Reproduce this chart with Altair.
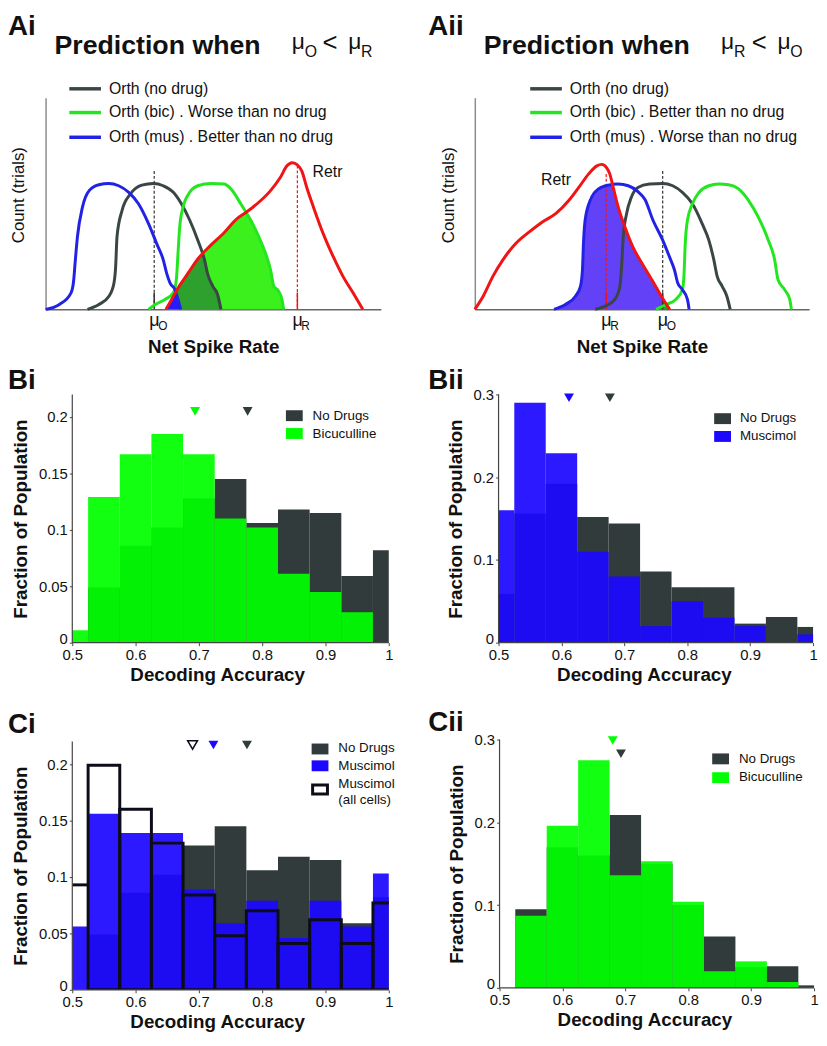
import altair as alt
import pandas as pd

FONT = "Liberation Sans"
INK = "#111111"
DARK = "#313b3b"
GREEN = "#00ff00"
BLUE = "#1c08ff"
RED = "#f01414"
LINE_GREEN = "#22e61e"
LINE_BLUE = "#2222e6"
LINE_GRAY = "#3a4545"
FILL_GREEN = "#3cf01e"
FILL_DKGREEN = "#2da02d"
FILL_BLUE = "#2a18ff"
FILL_PURPLE = "#6341f6"
AXIS_GRAY = "#444444"

# ---------------- Panel Ai (arbitrary units: net spike rate 0-100, count 0-100)
AI_ORTH_X = [12.5, 15.9, 18.9, 20.4, 20.9, 21.3, 22.8, 25.3, 28.7, 32.2, 35.1, 38.1, 40.5, 43.0, 45.4, 47.4, 48.4, 49.9, 51.3, 52.3]
AI_ORTH_Y = [0, 2.3, 6.2, 12.5, 20.2, 34.3, 46.7, 54.5, 58.7, 59.5, 58.4, 55.3, 49.9, 42.1, 32.7, 23.4, 16.4, 10.9, 7.0, 0]
AI_BIC_X = [30.7, 32.7, 35.6, 38.1, 39.0, 39.5, 40.0, 41.0, 43.0, 45.4, 49.4, 53.3, 55.5, 58.2, 61.2, 63.6, 65.6, 67.1, 68.1, 69.5, 70.5, 71.0]
AI_BIC_Y = [0, 2.3, 4.7, 7.8, 14.0, 26.5, 38.9, 48.3, 55.3, 58.4, 59.5, 59.2, 56.5, 49.9, 42.1, 34.3, 26.5, 18.7, 10.9, 8.6, 4.7, 0]
AI_MUS_X = [0, 4.1, 7.6, 8.4, 8.8, 9.5, 11.0, 13.0, 15.9, 18.9, 21.8, 24.8, 27.7, 30.7, 33.1, 35.1, 36.1, 37.1, 38.6, 39.5, 40.3]
AI_MUS_Y = [0, 2.3, 7.8, 14.0, 21.8, 34.3, 48.3, 56.1, 58.9, 59.5, 58.4, 55.3, 49.9, 40.5, 31.2, 23.4, 17.1, 12.5, 9.3, 4.7, 0]
AI_RETR_X = [35.9, 37.6, 39.5, 42.5, 45.4, 49.0, 53.1, 57.2, 59.3, 63.1, 67.1, 70.0, 72.0, 73.5, 74.9, 76.4, 77.9, 79.9, 82.8, 85.8, 88.7, 91.7, 94.6]
AI_RETR_Y = [0, 4.7, 10.1, 17.1, 23.8, 29.9, 36.0, 43.0, 45.3, 49.9, 56.1, 62.3, 67.8, 69.3, 68.5, 65.4, 57.6, 48.3, 35.8, 24.9, 15.6, 7.8, 0]
AI_SH_BIC_X = [35.9, 37.6, 39.5, 42.5, 45.4, 49.0, 53.1, 57.2, 59.7, 61.2, 63.6, 65.6, 67.1, 68.1, 69.5, 70.5, 71.0]
AI_SH_BIC_Y = [0, 4.7, 10.1, 17.1, 23.8, 29.9, 36.0, 43.0, 46.0, 42.1, 34.3, 26.5, 18.7, 10.9, 8.6, 4.7, 0]
AI_SH_ORTH_X = [35.9, 37.6, 39.5, 42.5, 45.4, 46.8, 47.4, 48.4, 49.9, 51.3, 52.3]
AI_SH_ORTH_Y = [0, 4.7, 10.1, 17.1, 23.8, 26.1, 23.4, 16.4, 10.9, 7.0, 0]
AI_SH_MUS_X = [35.9, 37.6, 38.8, 39.5, 40.3]
AI_SH_MUS_Y = [0, 4.7, 8.4, 4.7, 0]
AI_MU_O, AI_MU_O_TOP = 32.4, 65.4
AI_MU_R, AI_MU_R_TOP = 75.1, 68.0

# ---------------- Panel Aii
AII_ORTH_X = [36.0, 39.0, 41.9, 43.4, 43.9, 44.4, 45.4, 46.8, 48.8, 52.3, 56.2, 59.2, 62.1, 65.1, 68.0, 70.0, 71.5, 72.5, 74.0, 75.4, 76.4]
AII_ORTH_Y = [0, 1.5, 4.7, 10.9, 20.2, 34.3, 45.2, 52.9, 57.6, 59.2, 59.5, 58.4, 55.3, 49.9, 40.5, 32.7, 23.4, 15.6, 10.9, 6.2, 0]
AII_BIC_X = [54.2, 57.2, 60.1, 62.1, 62.6, 62.9, 63.6, 65.1, 67.1, 70.0, 73.0, 75.9, 78.9, 81.9, 84.8, 87.8, 89.7, 90.7, 92.7, 94.2, 94.7]
AII_BIC_Y = [0, 2.3, 4.7, 9.3, 17.1, 29.6, 42.1, 49.9, 55.3, 58.4, 59.2, 58.9, 56.9, 51.4, 43.6, 32.7, 23.4, 14.0, 9.3, 4.7, 0]
AII_MUS_X = [23.7, 27.1, 30.1, 31.6, 32.2, 32.5, 33.0, 34.5, 37.0, 39.9, 42.9, 45.9, 48.8, 50.9, 53.3, 56.2, 58.2, 59.7, 60.7, 62.1, 63.6, 64.1]
AII_MUS_Y = [0, 2.3, 6.2, 10.9, 18.7, 31.2, 42.1, 51.4, 56.9, 58.7, 59.2, 58.4, 55.6, 51.9, 42.1, 32.7, 24.9, 18.7, 12.5, 9.3, 4.7, 0]
AII_RETR_X = [0, 2.5, 5.4, 8.4, 12.3, 16.3, 20.2, 24.2, 28.1, 31.1, 34.0, 36.5, 38.0, 39.4, 40.4, 41.4, 42.9, 44.9, 47.3, 50.3, 53.3, 56.2, 58.3]
AII_RETR_Y = [0, 6.2, 15.6, 23.4, 31.2, 36.6, 41.3, 45.2, 51.4, 57.6, 63.9, 67.8, 68.5, 67.0, 63.9, 57.6, 48.3, 38.9, 29.4, 21.0, 13.1, 5.1, 0]
AII_SH_MUS_X = [23.7, 27.1, 30.1, 31.6, 32.2, 32.5, 33.0, 34.5, 37.0, 39.9, 41.2, 42.9, 44.9, 47.3, 50.3, 53.3, 56.2, 58.3]
AII_SH_MUS_Y = [0, 2.3, 6.2, 10.9, 18.7, 31.2, 42.1, 51.4, 56.9, 58.7, 58.7, 48.3, 38.9, 29.4, 21.0, 13.1, 5.1, 0]
AII_SH_BIC_X = [54.2, 56.3, 58.3]
AII_SH_BIC_Y = [0, 2.2, 0]
AII_MU_R, AII_MU_R_TOP = 39.3, 64.0
AII_MU_O, AII_MU_O_TOP = 56.2, 65.4

# ---------------- Histograms (bins of width 0.05 centred on these values)
CENTERS = [0.50, 0.55, 0.60, 0.65, 0.70, 0.75, 0.80, 0.85, 0.90, 0.95, 1.00]
XTICKS = [0.5, 0.6, 0.7, 0.8, 0.9, 1.0]
BI_NODRUG = [0.0, 0.049, 0.086, 0.102, 0.128, 0.145, 0.106, 0.118, 0.115, 0.059, 0.082]
BI_BIC = [0.011, 0.129, 0.167, 0.185, 0.167, 0.110, 0.102, 0.061, 0.045, 0.027, 0.0]
BII_NODRUG = [0.059, 0.156, 0.192, 0.152, 0.144, 0.086, 0.067, 0.067, 0.023, 0.031, 0.019]
BII_MUS = [0.160, 0.290, 0.229, 0.110, 0.080, 0.020, 0.050, 0.030, 0.020, 0.0, 0.010]
CI_NODRUG = [0.0, 0.049, 0.086, 0.102, 0.128, 0.145, 0.106, 0.118, 0.115, 0.059, 0.082]
CI_MUS = [0.056, 0.156, 0.139, 0.139, 0.089, 0.059, 0.079, 0.046, 0.079, 0.056, 0.103]
CI_MUS_ALL = [0.093, 0.199, 0.160, 0.130, 0.084, 0.048, 0.070, 0.041, 0.062, 0.041, 0.077]
CII_NODRUG = [0.0, 0.095, 0.170, 0.160, 0.209, 0.150, 0.100, 0.062, 0.025, 0.026, 0.003]
CII_BIC = [0.0, 0.087, 0.196, 0.275, 0.136, 0.153, 0.104, 0.020, 0.032, 0.007, 0.0]

BI_MEAN_BIC, BI_MEAN_NODRUG, BI_MEAN_Y = 0.694, 0.777, 0.205
BII_MEAN_MUS, BII_MEAN_NODRUG, BII_MEAN_Y = 0.612, 0.677, 0.296
CI_MEAN_ALL, CI_MEAN_MUS, CI_MEAN_NODRUG, CI_MEAN_Y = 0.690, 0.723, 0.776, 0.217
CII_MEAN_BIC, CII_MEAN_BIC_Y = 0.680, 0.299
CII_MEAN_NODRUG, CII_MEAN_NODRUG_Y = 0.693, 0.283

ONE = pd.DataFrame({"k": [0]})


def txt(text, x, y, size, weight="normal", align="left", baseline="alphabetic", color=INK):
    return alt.Chart(ONE).mark_text(
        text=text, font=FONT, fontSize=size, fontWeight=weight,
        align=align, baseline=baseline, color=color
    ).encode(x=alt.value(x), y=alt.value(y))


# ---------------- Panel A helpers
XA = alt.Scale(domain=[0, 100], nice=False, zero=False)
YA = alt.Scale(domain=[0, 100], nice=False, zero=False)
A_XAXIS = alt.Axis(title="Net Spike Rate", labels=False, ticks=False, grid=False,
                   domainColor="#666666", domainWidth=1.5, titleFontSize=19,
                   titleFontWeight="bold", titlePadding=29)
A_YAXIS = alt.Axis(title="Count (trials)", labels=False, ticks=False, grid=False,
                   domainColor="#8c8c8c", domainWidth=1.5, titleFontSize=17,
                   titleFontWeight="normal", titlePadding=18, titleY=98)


def a_line(xs, ys, color):
    return alt.Chart(pd.DataFrame({"x": xs, "y": ys})).mark_line(
        color=color, strokeWidth=3, interpolate="monotone"
    ).encode(x=alt.X("x:Q", scale=XA), y=alt.Y("y:Q", scale=YA))


def a_area(xs, ys, color, with_axes=False):
    kx = {"axis": A_XAXIS} if with_axes else {}
    ky = {"axis": A_YAXIS} if with_axes else {}
    return alt.Chart(pd.DataFrame({"x": xs, "y": ys})).mark_area(
        color=color, opacity=1, interpolate="monotone"
    ).encode(x=alt.X("x:Q", scale=XA, **kx), y=alt.Y("y:Q", scale=YA, **ky))


def a_mu(mu, top, color, sub):
    df = pd.DataFrame({"mu": [mu], "top": [top], "bot": [0], "base": [8]})
    xenc = alt.X("mu:Q", scale=XA)
    dash = alt.Chart(df).mark_rule(color=color, strokeWidth=1.2, strokeDash=[3, 2]).encode(
        x=xenc, y=alt.Y("top:Q", scale=YA), y2="bot:Q")
    solid = alt.Chart(df).mark_rule(color=color, strokeWidth=1.5).encode(
        x=xenc, y=alt.Y("base:Q", scale=YA), y2="bot:Q")
    m = alt.Chart(df).mark_text(text="μ", font=FONT, fontSize=18, align="left", dx=-5,
                                color=INK).encode(x=xenc, y=alt.value(226))
    s = alt.Chart(df).mark_text(text=sub, font=FONT, fontSize=12, align="left", dx=4,
                                color=INK).encode(x=xenc, y=alt.value(231))
    return [dash, solid, m, s]


def a_legend(x0, labels):
    out = []
    for lab, col, yy in zip(labels, [LINE_GRAY, LINE_GREEN, LINE_BLUE], [-9, 15, 40]):
        out.append(alt.Chart(ONE).mark_rule(color=col, strokeWidth=3.5).encode(
            x=alt.value(x0), x2=alt.value(x0 + 32), y=alt.value(yy)))
        out.append(txt(lab, x0 + 40, yy, 16, baseline="middle"))
    return out


def a_title(label, lx, sub1, sub2):
    return [
        txt(label, lx, -63, 28, "bold"),
        txt("Prediction when", 9, -44, 27, "bold"),
        txt("μ", 249, -49, 23), txt(sub1, 262, -41, 16),
        txt("<", 280, -47, 26),
        txt("μ", 306, -49, 23), txt(sub2, 319, -41, 16),
    ]


panel_ai = alt.layer(
    a_area(AI_SH_BIC_X, AI_SH_BIC_Y, FILL_GREEN, with_axes=True),
    a_area(AI_SH_ORTH_X, AI_SH_ORTH_Y, FILL_DKGREEN),
    a_area(AI_SH_MUS_X, AI_SH_MUS_Y, FILL_BLUE),
    *a_mu(AI_MU_O, AI_MU_O_TOP, "#333333", "O"),
    *a_mu(AI_MU_R, AI_MU_R_TOP, RED, "R"),
    a_line(AI_ORTH_X, AI_ORTH_Y, LINE_GRAY),
    a_line(AI_BIC_X, AI_BIC_Y, LINE_GREEN),
    a_line(AI_MUS_X, AI_MUS_Y, LINE_BLUE),
    a_line(AI_RETR_X, AI_RETR_Y, RED),
    txt("Retr", 270, 75, 16, baseline="middle"),
    *a_legend(24, ["Orth (no drug)", "Orth (bic) . Worse than no drug",
                   "Orth (mus) . Better than no drug"]),
    *a_title("Ai", -38, "O", "R"),
).properties(width=339, height=214)

panel_aii = alt.layer(
    a_area(AII_SH_MUS_X, AII_SH_MUS_Y, FILL_PURPLE, with_axes=True),
    a_area(AII_SH_BIC_X, AII_SH_BIC_Y, FILL_DKGREEN),
    *a_mu(AII_MU_R, AII_MU_R_TOP, RED, "R"),
    *a_mu(AII_MU_O, AII_MU_O_TOP, "#333333", "O"),
    a_line(AII_ORTH_X, AII_ORTH_Y, LINE_GRAY),
    a_line(AII_BIC_X, AII_BIC_Y, LINE_GREEN),
    a_line(AII_MUS_X, AII_MUS_Y, LINE_BLUE),
    a_line(AII_RETR_X, AII_RETR_Y, RED),
    txt("Retr", 67, 83, 16, baseline="middle"),
    *a_legend(56, ["Orth (no drug)", "Orth (bic) . Better than no drug",
                   "Orth (mus) . Worse than no drug"]),
    *a_title("Aii", -47, "R", "O"),
).properties(width=338, height=214)


# ---------------- Histogram panels
PLOT_H = 251


def hist_panel(ymax, yticks, plot_w, ext_l, ext_t, bar_sets, outline, means,
               legend, label, label_x, label_y):
    xs = alt.Scale(domain=[0.5 - ext_l / plot_w * 0.5, 1.0], nice=False, zero=False)
    ys = alt.Scale(domain=[0, ymax * (PLOT_H + ext_t) / PLOT_H], nice=False, zero=False)
    x_axis = alt.Axis(
        values=XTICKS, format="~g", title="Decoding Accuracy", grid=False,
        domain=False, labelFontSize=15, tickSize=3, labelPadding=2, titlePadding=3,
        titleFontSize=19, titleFontWeight="bold", tickColor=AXIS_GRAY,
        labelFlush=False, labelOverlap=False)
    y_axis = alt.Axis(
        values=yticks, format="~g", title="Fraction of Population", grid=False,
        domain=False, labelFontSize=15, tickSize=3, labelPadding=2, titlePadding=8,
        titleFontSize=19, titleFontWeight="bold", tickColor=AXIS_GRAY,
        labelFlush=False, labelOverlap=False, offset=-ext_l,
        labelOffset={"condition": {"test": "datum.value === 0", "value": -4}, "value": 0},
        titleY=ext_t + PLOT_H / 2)

    def X(f):
        return alt.X(f, scale=xs)

    def Y(f):
        return alt.Y(f, scale=ys)

    layers = []
    for i, (vals, color, op) in enumerate(bar_sets):
        df = pd.DataFrame({
            "lo": [max(c - 0.025, 0.5) for c in CENTERS],
            "hi": [min(c + 0.025, 1.0) for c in CENTERS],
            "v": vals, "z": [0] * len(vals)})
        if i == 0:
            xe = alt.X("lo:Q", scale=xs, axis=x_axis)
            ye = alt.Y("v:Q", scale=ys, axis=y_axis)
        else:
            xe, ye = X("lo:Q"), Y("v:Q")
        layers.append(alt.Chart(df).mark_rect(color=color, opacity=op).encode(
            x=xe, x2="hi:Q", y=ye, y2="z:Q"))

    if outline is not None:
        df = pd.DataFrame({
            "lo": [c - 0.025 for c in CENTERS[1:]],
            "hi": [c + 0.025 for c in CENTERS[1:]],
            "v": outline[1:], "z": [0] * (len(outline) - 1)})
        layers.append(alt.Chart(df).mark_rect(
            fillOpacity=0, stroke="#0d0d1a", strokeWidth=3, clip=True).encode(
            x=X("lo:Q"), x2="hi:Q", y=Y("v:Q"), y2="z:Q"))
        df0 = pd.DataFrame({"lo": [0.5], "hi": [CENTERS[0] + 0.025], "v": [outline[0]]})
        layers.append(alt.Chart(df0).mark_rule(color="#0d0d1a", strokeWidth=3).encode(
            x=X("lo:Q"), x2="hi:Q", y=Y("v:Q")))

    # axis lines at 0.5 and at 0
    ldf = pd.DataFrame({"x0": [0.5], "x1": [1.0], "y0": [0.0], "y1": [ymax]})
    layers.append(alt.Chart(ldf).mark_rule(color=AXIS_GRAY, strokeWidth=1.2).encode(
        x=X("x0:Q"), y=Y("y0:Q"), y2="y1:Q"))
    layers.append(alt.Chart(ldf).mark_rule(color=AXIS_GRAY, strokeWidth=1.2).encode(
        x=X("x0:Q"), x2="x1:Q", y=Y("y0:Q")))

    for m, yv, color, filled in means:
        df = pd.DataFrame({"m": [m], "t": [yv]})
        layers.append(alt.Chart(df).mark_point(
            shape="triangle-down", filled=filled, size=100, color=color, opacity=1,
            strokeWidth=1.5).encode(x=X("m:Q"), y=Y("t:Q")))

    for kind, x, y, a in legend:
        if kind == "sq":
            layers.append(alt.Chart(ONE).mark_rect(color=a).encode(
                x=alt.value(x), x2=alt.value(x + 17), y=alt.value(y), y2=alt.value(y + 11)))
        elif kind == "box":
            layers.append(alt.Chart(ONE).mark_rect(
                fill="white", stroke="#0d0d1a", strokeWidth=3).encode(
                x=alt.value(x), x2=alt.value(x + 15), y=alt.value(y), y2=alt.value(y + 9)))
        else:
            layers.append(txt(a, x, y, 13.5, baseline="middle"))

    layers.append(txt(label, label_x, label_y, 28, "bold"))
    return alt.layer(*layers).properties(width=plot_w + ext_l, height=PLOT_H + ext_t)


panel_bi = hist_panel(
    0.22, [0, 0.05, 0.1, 0.15, 0.2], 320, 27, 0,
    [(BI_NODRUG, DARK, 1.0), (BI_BIC, GREEN, 0.93)], None,
    [(BI_MEAN_BIC, BI_MEAN_Y, GREEN, True), (BI_MEAN_NODRUG, BI_MEAN_Y, DARK, True)],
    [("sq", 243, 16, DARK), ("sq", 243, 34, GREEN),
     ("t", 270, 22, "No Drugs"), ("t", 270, 40, "Bicuculline")],
    "Bi", -38, -5)

panel_bii = hist_panel(
    0.3, [0, 0.1, 0.2, 0.3], 318, 24, 0,
    [(BII_NODRUG, DARK, 1.0), (BII_MUS, BLUE, 0.93)], None,
    [(BII_MEAN_MUS, BII_MEAN_Y, BLUE, True), (BII_MEAN_NODRUG, BII_MEAN_Y, DARK, True)],
    [("sq", 242, 19, DARK), ("sq", 242, 37, BLUE),
     ("t", 268, 24, "No Drugs"), ("t", 268, 42, "Muscimol")],
    "Bii", -47, -5)

panel_ci = hist_panel(
    0.22, [0, 0.05, 0.1, 0.15, 0.2], 320, 27, 14,
    [(CI_NODRUG, DARK, 1.0), (CI_MUS, BLUE, 0.93)], CI_MUS_ALL,
    [(CI_MEAN_ALL, CI_MEAN_Y, "#0d0d1a", False), (CI_MEAN_MUS, CI_MEAN_Y, BLUE, True),
     (CI_MEAN_NODRUG, CI_MEAN_Y, DARK, True)],
    [("sq", 269, 16, DARK), ("sq", 269, 33, BLUE), ("box", 270, 58, None),
     ("t", 296, 21, "No Drugs"), ("t", 296, 39, "Muscimol"),
     ("t", 296, 57, "Muscimol"), ("t", 296, 73, "(all cells)")],
    "Ci", -38, 5)

panel_cii = hist_panel(
    0.3, [0, 0.1, 0.2, 0.3], 318, 25, 12,
    [(CII_NODRUG, DARK, 1.0), (CII_BIC, GREEN, 0.93)], None,
    [(CII_MEAN_BIC, CII_MEAN_BIC_Y, GREEN, True),
     (CII_MEAN_NODRUG, CII_MEAN_NODRUG_Y, DARK, True)],
    [("sq", 240, 26, DARK), ("sq", 240, 45, GREEN),
     ("t", 267, 31.5, "No Drugs"), ("t", 267, 50, "Bicuculline")],
    "Cii", -47, 3)

chart = alt.concat(
    panel_ai, panel_aii, panel_bi, panel_bii, panel_ci, panel_cii,
    columns=2, spacing={"row": 86, "column": 87}, bounds="flush", align="each"
).properties(padding=0).configure_view(stroke=None).configure_axis(
    labelFont=FONT, titleFont=FONT, labelColor=INK, titleColor=INK, grid=False
)

chart.save("out.html", embed_options={"renderer": "svg", "actions": False})
